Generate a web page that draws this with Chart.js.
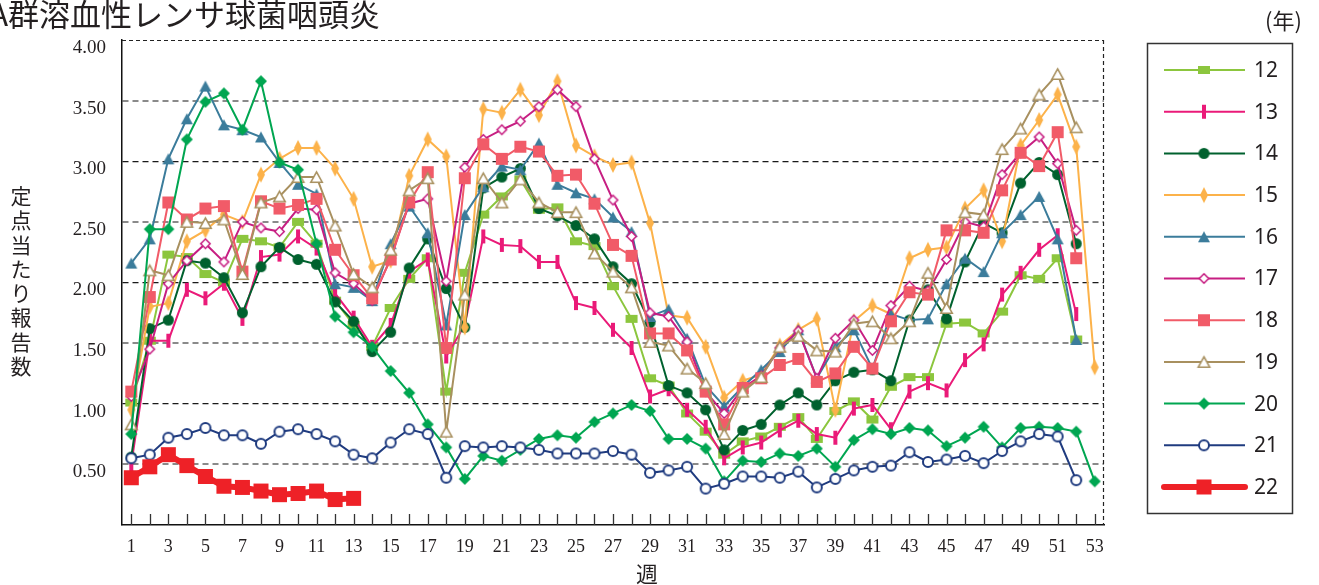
<!DOCTYPE html>
<html>
<head>
<meta charset="utf-8">
<script src="https://cdn.jsdelivr.net/npm/chart.js@4.4.0/dist/chart.umd.min.js"></script>
<style>
html, body { margin: 0; padding: 0; background: #fff; overflow: hidden; }
</style>
</head>
<body>
<canvas id="myChart" width="1319" height="585"></canvas>
<script>
// 週 1..53
var weeks = [];
for (var w = 1; w <= 53; w++) weeks.push(w);

var years = ["12", "13", "14", "15", "16", "17", "18", "19", "20", "21", "22"];

var s12 = [1.01,1.52,2.23,2.21,2.07,2.00,2.36,2.34,2.29,2.50,2.32,1.85,1.65,1.47,1.79,2.03,2.20,1.10,2.08,2.56,2.71,2.85,2.60,2.62,2.34,2.30,1.97,1.70,1.21,1.15,0.92,0.77,0.58,0.69,0.73,0.81,0.89,0.71,0.94,1.02,0.87,1.14,1.22,1.22,1.66,1.67,1.58,1.76,2.06,2.03,2.20,1.53,null];
var s13 = [0.50,1.52,1.52,1.94,1.87,1.99,1.70,2.21,2.23,2.38,2.28,1.91,1.71,1.47,1.65,2.09,2.19,1.39,1.65,2.38,2.31,2.30,2.17,2.17,1.83,1.79,1.61,1.46,1.06,1.12,0.95,0.81,0.55,0.64,0.68,0.78,0.86,0.75,0.72,0.96,0.99,0.79,1.10,1.17,1.11,1.36,1.49,1.90,2.08,2.27,2.39,1.74,null];
var s14 = [0.56,1.62,1.69,2.18,2.16,2.04,1.75,2.13,2.29,2.19,2.15,1.84,1.68,1.43,1.59,2.12,2.36,1.95,1.63,2.78,2.87,2.94,2.61,2.55,2.47,2.36,2.13,1.99,1.67,1.15,1.09,0.95,0.62,0.78,0.83,0.99,1.09,0.99,1.19,1.26,1.28,1.19,1.69,1.94,1.70,2.17,2.49,2.41,2.82,2.99,2.89,2.32,null];
var s15 = [0.95,1.80,1.83,2.34,2.43,2.56,2.50,2.89,3.02,3.11,3.11,2.94,2.69,2.13,2.18,2.88,3.18,3.04,1.63,3.43,3.40,3.59,3.38,3.66,3.13,3.04,2.97,2.99,2.49,1.73,1.71,1.47,1.05,1.19,1.24,1.48,1.61,1.70,0.95,1.68,1.81,1.74,2.20,2.27,2.29,2.61,2.76,2.34,3.13,3.34,3.55,3.12,1.30];
var s16 = [2.16,2.36,3.02,3.35,3.62,3.30,3.26,3.20,2.99,2.81,2.73,1.99,1.96,1.85,2.32,2.63,2.41,1.65,2.56,2.79,2.96,2.93,3.15,2.81,2.74,2.69,2.54,2.42,1.72,1.78,1.54,1.15,0.98,1.14,1.28,1.43,1.61,1.21,1.47,1.61,1.29,1.74,1.69,1.70,1.99,2.20,2.09,2.41,2.56,2.71,2.36,1.53,null];
var s17 = [1.06,1.45,1.99,2.18,2.32,2.17,2.50,2.45,2.42,2.61,2.60,2.08,1.99,1.85,2.20,2.65,2.69,2.01,2.95,3.18,3.26,3.33,3.45,3.59,3.45,3.02,2.68,2.38,1.75,1.72,1.51,1.10,0.92,1.13,1.23,1.46,1.60,1.21,1.54,1.69,1.44,1.81,1.97,1.93,2.19,2.50,2.46,2.89,3.07,3.20,2.98,2.43,null];
var s18 = [1.10,1.88,2.66,2.52,2.61,2.63,2.09,2.67,2.61,2.64,2.69,2.27,2.06,1.87,2.19,2.66,2.91,1.46,2.86,3.14,3.02,3.12,3.08,2.88,2.89,2.65,2.31,2.22,1.58,1.58,1.44,1.10,0.83,1.13,1.21,1.32,1.37,1.18,1.25,1.47,1.29,1.68,1.92,1.90,2.43,2.43,2.41,2.76,3.07,2.96,3.24,2.20,null];
var s19 = [0.83,2.10,2.06,2.50,2.49,2.52,2.07,2.66,2.71,2.87,2.87,2.47,2.07,1.96,2.27,2.76,2.86,0.77,1.90,2.86,2.66,2.85,2.66,2.58,2.58,2.24,2.09,1.96,1.51,1.48,1.29,1.17,0.75,1.10,1.22,1.47,1.56,1.44,1.43,1.66,1.68,1.54,1.68,2.08,1.79,2.58,2.56,3.10,3.27,3.55,3.72,3.28,null];
var s20 = [0.75,2.44,2.44,3.18,3.49,3.56,3.26,3.66,2.99,2.93,2.32,1.72,1.59,1.47,1.27,1.09,0.83,0.64,0.38,0.57,0.53,0.62,0.71,0.74,0.72,0.85,0.92,0.99,0.94,0.71,0.71,0.63,0.36,0.53,0.52,0.59,0.57,0.63,0.48,0.70,0.79,0.75,0.80,0.78,0.65,0.72,0.81,0.64,0.80,0.81,0.80,0.77,0.36];
var s21 = [0.55,0.58,0.72,0.75,0.80,0.74,0.74,0.67,0.77,0.79,0.75,0.69,0.58,0.55,0.68,0.79,0.75,0.39,0.65,0.64,0.65,0.64,0.62,0.59,0.59,0.59,0.61,0.58,0.43,0.45,0.48,0.30,0.34,0.40,0.40,0.39,0.44,0.31,0.38,0.45,0.48,0.49,0.60,0.52,0.54,0.57,0.51,0.61,0.69,0.75,0.73,0.37,null];
var s22 = [0.39,0.48,0.58,0.49,0.40,0.32,0.31,0.28,0.25,0.26,0.28,0.21,0.22];

var yTicks = [0.5, 1.0, 1.5, 2.0, 2.5, 3.0, 3.5, 4.0];

// marker images
function marker(kind, color, w, h, lw) {
    var c = document.createElement('canvas');
    var pad = 2;
    c.width = w + pad * 2;
    c.height = h + pad * 2;
    var g = c.getContext('2d');
    var cx = c.width / 2, cy = c.height / 2;
    g.fillStyle = color;
    g.strokeStyle = color;
    g.lineWidth = lw || 1.5;
    g.beginPath();
    if (kind === 'rect') {
        g.fillRect(pad, pad, w, h);
    } else if (kind === 'circle' || kind === 'ocircle') {
        g.arc(cx, cy, w / 2 - (kind === 'ocircle' ? lw / 2 : 0), 0, Math.PI * 2);
        if (kind === 'ocircle') { g.fillStyle = '#fff'; g.fill(); g.stroke(); } else g.fill();
    } else if (kind === 'diamond' || kind === 'odiamond') {
        var i = kind === 'odiamond' ? lw / 2 : 0;
        g.moveTo(cx, pad + i); g.lineTo(pad + w - i, cy); g.lineTo(cx, pad + h - i); g.lineTo(pad + i, cy); g.closePath();
        if (kind === 'odiamond') { g.fillStyle = '#fff'; g.fill(); g.stroke(); } else g.fill();
    } else if (kind === 'tri' || kind === 'otri') {
        var j = kind === 'otri' ? lw / 2 : 0;
        g.moveTo(cx, pad + j); g.lineTo(pad + w - j, pad + h - j); g.lineTo(pad + j, pad + h - j); g.closePath();
        if (kind === 'otri') { g.fillStyle = '#fff'; g.fill(); g.stroke(); } else g.fill();
    }
    return c;
}

var styles = {
    "12": {color: "#8cc63e", width: 2, pt: marker('rect', '#8cc63e', 12, 8)},
    "13": {color: "#ea1a78", width: 2, pt: marker('rect', '#ea1a78', 4, 14)},
    "14": {color: "#00612e", width: 2, pt: marker('circle', '#00612e', 11, 11)},
    "15": {color: "#fcb24a", width: 2, pt: marker('diamond', '#fcb24a', 8, 16)},
    "16": {color: "#3b7c9b", width: 2, pt: marker('tri', '#3b7c9b', 12, 11)},
    "17": {color: "#c71e82", width: 2, pt: marker('odiamond', '#c71e82', 11, 11, 1.6)},
    "18": {color: "#f15b68", width: 2, pt: marker('rect', '#f15b68', 12, 12)},
    "19": {color: "#a8905f", width: 2, pt: marker('otri', '#a8905f', 13, 12, 1.6)},
    "20": {color: "#00a651", width: 2, pt: marker('diamond', '#00a651', 12, 12)},
    "21": {color: "#1f3b7f", width: 2, pt: marker('ocircle', '#1f3b7f', 12, 12, 2)},
    "22": {color: "#ee2127", width: 6, pt: marker('rect', '#ee2127', 15, 15)}
};

var series = [s12, s13, s14, s15, s16, s17, s18, s19, s20, s21, s22];

var datasets = years.map(function(y, i) {
    var st = styles[y];
    return {
        label: y,
        data: series[i],
        borderColor: st.color,
        backgroundColor: st.color,
        borderWidth: st.width,
        pointStyle: st.pt,
        pointRadius: 6,
        pointHoverRadius: 6,
        tension: 0,
        spanGaps: false,
        order: 10 - i
    };
});

var framePlugin = {
    id: 'frame',
    beforeDatasetsDraw: function(chart) {
        var ctx = chart.ctx, a = chart.chartArea, xs = chart.scales.x;
        ctx.save();
        ctx.strokeStyle = '#222';
        ctx.lineWidth = 1.2;
        ctx.setLineDash([4, 3]);
        ctx.beginPath();
        ctx.moveTo(a.left, a.top + 0.5); ctx.lineTo(a.right, a.top + 0.5);
        ctx.moveTo(a.right - 0.5, a.top); ctx.lineTo(a.right - 0.5, a.bottom);
        ctx.stroke();
        ctx.setLineDash([]);
        ctx.strokeStyle = '#333';
        ctx.lineWidth = 1.3;
        ctx.beginPath();
        for (var i = 0; i < weeks.length; i++) {
            var px = Math.round(xs.getPixelForValue(i)) + 0.5;
            ctx.moveTo(px, a.bottom); ctx.lineTo(px, a.bottom - 11);
        }
        ctx.stroke();
        ctx.restore();
    },
    afterDraw: function(chart) {
        var ctx = chart.ctx;
        ctx.save();
        // title
        ctx.fillStyle = '#231f20';
        ctx.font = '31px "Noto Sans CJK JP"';
        ctx.textBaseline = 'middle';
        var aw = ctx.measureText('A').width;
        ctx.fillText('A群溶血性レンサ球菌咽頭炎', 8 - aw, 14);
        // (年)
        ctx.font = '22px "Noto Sans CJK JP"';
        ctx.fillText('(年)', 1265, 21);
        // y title, vertical
        ctx.font = '21px "Noto Sans CJK JP"';
        ctx.textAlign = 'center';
        var yt = '定点当たり報告数';
        for (var k = 0; k < yt.length; k++) {
            ctx.fillText(yt[k], 21, 196 + k * 24.3);
        }
        ctx.font = '22px "Noto Sans CJK JP"';
        ctx.fillText('週', 647, 574);
        // legend
        ctx.textAlign = 'left';
        ctx.strokeStyle = '#333';
        ctx.lineWidth = 1.5;
        ctx.strokeRect(1147.5, 43.5, 145, 470);
        chart.data.datasets.forEach(function(ds, i) {
            var y = 70 + i * 41.7;
            ctx.strokeStyle = ds.borderColor;
            ctx.lineWidth = ds.borderWidth;
            ctx.lineCap = ds.borderWidth > 3 ? 'round' : 'butt';
            ctx.beginPath();
            ctx.moveTo(1164, y); ctx.lineTo(1245, y);
            ctx.stroke();
            var m = ds.pointStyle;
            ctx.drawImage(m, 1204 - m.width / 2, y - m.height / 2);
            ctx.fillStyle = '#231f20';
            ctx.font = '21px "Noto Sans"';
            ctx.fillText(ds.label, 1254, y + 1);
        });
        ctx.restore();
    }
};

var ctx = document.getElementById('myChart');

var LineGraph = new Chart(ctx, {
    type: 'line',
    data: {
        labels: weeks,
        datasets: datasets
    },
    options: {
        responsive: false,
        animation: false,
        layout: { padding: { left: 0, right: 215, top: 40, bottom: 0 } },
        plugins: {
            legend: { display: false },
            tooltip: { enabled: false }
        },
        scales: {
            x: {
                type: 'category',
                offset: true,
                grid: { display: false, drawTicks: false },
                border: { display: true, color: '#111', width: 1.5 },
                ticks: {
                    autoSkip: false,
                    maxRotation: 0,
                    padding: 11,
                    color: '#231f20',
                    font: { family: 'Liberation Serif', size: 18 },
                    callback: function(v, i) {
                        return weeks[i] % 2 === 1 ? String(weeks[i]) : '';
                    }
                },
                afterFit: function(s) { s.height = 60; }
            },
            y: {
                min: 0,
                max: 4,
                afterBuildTicks: function(s) {
                    s.ticks = [{value: 0}].concat(yTicks.map(function(v) { return {value: v}; }));
                },
                ticks: {
                    padding: 16,
                    labelOffset: 8,
                    color: '#231f20',
                    font: { family: 'Liberation Serif', size: 19 },
                    callback: function(v) { return v === 0 ? '' : Number(v).toFixed(2); }
                },
                grid: {
                    drawTicks: false,
                    color: function(c) {
                        var v = c.tick ? c.tick.value : 0;
                        if (v === 0 || v === 4) return 'rgba(0,0,0,0)';
                        return (v % 1 === 0) ? '#1a1a1a' : '#8a8a8a';
                    },
                    lineWidth: function(c) {
                        var v = c.tick ? c.tick.value : 0;
                        return (v % 1 === 0) ? 1.3 : 2;
                    }
                },
                border: { display: true, color: '#111', width: 1.5, dash: [6, 4] },
                afterFit: function(s) { s.width = 122; }
            }
        }
    },
    plugins: [framePlugin]
});
</script>
</body>
</html>
